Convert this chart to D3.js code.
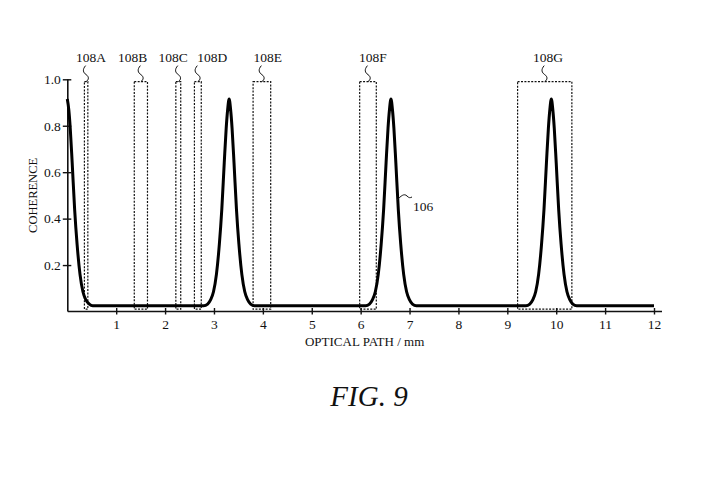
<!DOCTYPE html>
<html>
<head>
<meta charset="utf-8">
<script src="https://cdn.jsdelivr.net/npm/d3@7"></script>
<style>
  html, body { margin: 0; padding: 0; background: #fff; }
  svg { display: block; }
  text { font-family: "Liberation Serif", "DejaVu Serif", serif; fill: #111; }
</style>
</head>
<body>
<script>
// ---- data ----
const xTicks = [1, 2, 3, 4, 5, 6, 7, 8, 9, 10, 11, 12];
const yTicks = [0.2, 0.4, 0.6, 0.8, 1.0];
const yTickLabels = ["0.2", "0.4", "0.6", "0.8", "1.0"];

// coherence curve 106: optical path (mm) and coherence
const curveX = [
  0, 0.03, 0.06, 0.1, 0.15, 0.2, 0.26, 0.32, 0.38, 0.45, 0.52,
  2.79, 2.87, 2.93, 2.99, 3.05, 3.11, 3.16, 3.21, 3.25, 3.28, 3.31, 3.34, 3.37, 3.41, 3.46, 3.51, 3.57, 3.63, 3.69, 3.75, 3.83,
  6.10, 6.18, 6.24, 6.30, 6.36, 6.42, 6.47, 6.52, 6.56, 6.59, 6.62, 6.65, 6.68, 6.72, 6.77, 6.82, 6.88, 6.94, 7.00, 7.06, 7.14,
  9.38, 9.46, 9.52, 9.58, 9.64, 9.70, 9.75, 9.80, 9.84, 9.87, 9.90, 9.93, 9.96, 10.00, 10.05, 10.10, 10.16, 10.22, 10.28, 10.34, 10.42,
  12
];
const curveY = [
  0.915, 0.87, 0.79, 0.64, 0.44, 0.29, 0.16, 0.085, 0.05, 0.032, 0.025,
  0.025, 0.032, 0.05, 0.085, 0.16, 0.29, 0.44, 0.64, 0.79, 0.87, 0.915, 0.87, 0.79, 0.64, 0.44, 0.29, 0.16, 0.085, 0.05, 0.032, 0.025,
  0.025, 0.032, 0.05, 0.085, 0.16, 0.29, 0.44, 0.64, 0.79, 0.87, 0.915, 0.87, 0.79, 0.64, 0.44, 0.29, 0.16, 0.085, 0.05, 0.032, 0.025,
  0.025, 0.032, 0.05, 0.085, 0.16, 0.29, 0.44, 0.64, 0.79, 0.87, 0.915, 0.87, 0.79, 0.64, 0.44, 0.29, 0.16, 0.085, 0.05, 0.032, 0.025,
  0.025
];

// dotted windows 108A..108G (optical path, mm)
const windowNames = ["108A", "108B", "108C", "108D", "108E", "108F", "108G"];
const windowStart = [0.35, 1.37, 2.22, 2.60, 3.80, 5.98, 9.21];
const windowEnd   = [0.42, 1.64, 2.32, 2.74, 4.16, 6.32, 10.32];
const windowTop = 0.99;
const windowBottom = 0.01;
const windowLabelAt = [0.485, 1.335, 2.166, 2.967, 4.098, 6.25, 9.83];

const curveLabel = "106";
const xTitle = "OPTICAL PATH / mm";
const yTitle = "COHERENCE";
const figTitle = "FIG. 9";

// ---- drawing ----
const W = 706, H = 502;
const svg = d3.select("body").append("svg").attr("width", W).attr("height", H);
svg.append("rect").attr("width", W).attr("height", H).attr("fill", "#fff");

const x = d3.scaleLinear().domain([0, 12]).range([67.3, 654]);
const y = d3.scaleLinear().domain([0, 1]).range([311.5, 79.3]);

// axis lines
svg.append("line").attr("x1", x(0) + 0.5).attr("x2", x(12) + 8)
  .attr("y1", y(0)).attr("y2", y(0)).attr("stroke", "#111").attr("stroke-width", 1.6);
svg.append("line").attr("x1", x(0) + 0.5).attr("x2", x(0) + 0.5)
  .attr("y1", y(0)).attr("y2", y(1)).attr("stroke", "#111").attr("stroke-width", 1.6);

// x axis
const gx = svg.append("g").attr("transform", `translate(0,${y(0)})`)
  .call(d3.axisBottom(x).tickValues(xTicks).tickSize(3).tickPadding(5).tickFormat(d3.format("d")));
gx.select(".domain").remove();
gx.selectAll(".tick line").attr("y1", -3.5).attr("y2", 3).attr("stroke", "#111").attr("stroke-width", 1.4);
gx.selectAll(".tick text").attr("font-family", "Liberation Serif").attr("font-size", 13.5).attr("fill", "#111");

// y axis
const gy = svg.append("g").attr("transform", `translate(${x(0) + 0.5},0)`)
  .call(d3.axisLeft(y).tickValues(yTicks).tickSize(5).tickPadding(2)
    .tickFormat((d, i) => yTickLabels[i]));
gy.select(".domain").remove();
gy.selectAll(".tick line").attr("x1", 3.5).attr("x2", -5).attr("stroke", "#111").attr("stroke-width", 1.4);
gy.selectAll(".tick text").attr("font-family", "Liberation Serif").attr("font-size", 13.5).attr("fill", "#111");

// dotted windows
const win = svg.append("g");
windowNames.forEach((name, i) => {
  win.append("rect")
    .attr("x", x(windowStart[i])).attr("y", y(windowTop))
    .attr("width", x(windowEnd[i]) - x(windowStart[i]))
    .attr("height", y(windowBottom) - y(windowTop))
    .attr("fill", "none").attr("stroke", "#111").attr("stroke-width", 1.2)
    .attr("stroke-dasharray", "2,1.4");
  const cx = (x(windowStart[i]) + x(windowEnd[i])) / 2;
  const top = y(windowTop);
  // squiggle leader
  const p = d3.path();
  p.moveTo(cx - 0.5, top - 16);
  p.bezierCurveTo(cx - 4, top - 12, cx - 3, top - 9, cx, top - 7);
  p.bezierCurveTo(cx + 3, top - 5, cx + 3, top - 2, cx, top);
  win.append("path").attr("d", p.toString()).attr("fill", "none")
    .attr("stroke", "#111").attr("stroke-width", 1);
  win.append("text").attr("x", x(windowLabelAt[i])).attr("y", top - 20)
    .attr("text-anchor", "middle").attr("font-size", 13.5).text(name);
});

// curve
const pts = curveX.map((d, i) => [d, curveY[i]]);
const line = d3.line().x(d => x(d[0])).y(d => y(d[1])).curve(d3.curveMonotoneX);
svg.append("path").datum(pts).attr("d", line)
  .attr("fill", "none").attr("stroke", "#000").attr("stroke-width", 3)
  .attr("stroke-linejoin", "round");

// curve label 106
const lp = d3.path();
lp.moveTo(397, 200);
lp.bezierCurveTo(401, 196, 404, 193, 407, 196);
lp.bezierCurveTo(409, 198, 410, 198, 412, 197);
svg.append("path").attr("d", lp.toString()).attr("fill", "none").attr("stroke", "#111").attr("stroke-width", 1);
svg.append("text").attr("x", 413).attr("y", 211).attr("font-size", 13.5).text(curveLabel);

// axis titles
svg.append("text").attr("x", (x(0) + x(12) + 8) / 2).attr("y", 346)
  .attr("text-anchor", "middle").attr("font-size", 13).text(xTitle);
svg.append("text").attr("transform", `translate(37,${y(0.5)}) rotate(-90)`)
  .attr("text-anchor", "middle").attr("font-size", 12.5).text(yTitle);

// figure caption
svg.append("text").attr("x", 369).attr("y", 406).attr("text-anchor", "middle")
  .attr("font-size", 29).attr("font-style", "italic").text(figTitle);
</script>
</body>
</html>
